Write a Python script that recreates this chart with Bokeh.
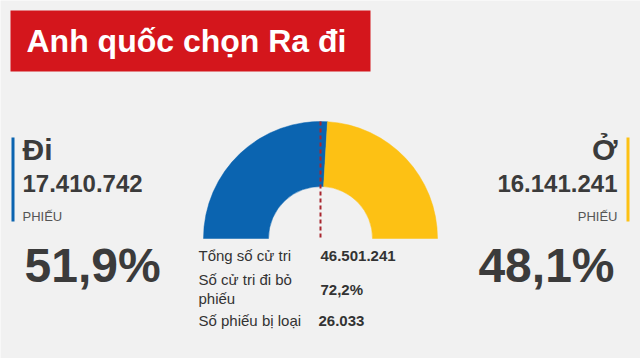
import math
from bokeh.plotting import figure
from bokeh.models import Range1d, ColumnDataSource
from bokeh.core.properties import value
from bokeh.embed import file_html
from bokeh.resources import INLINE

# ---- data ----
title = "Anh quốc chọn Ra đi"
sides = ["Đi", "Ở"]
votes = [17410742, 16141241]
vote_labels = ["17.410.742", "16.141.241"]
shares = [51.9, 48.1]
share_labels = ["51,9%", "48,1%"]
unit_label = "PHIẾU"
side_colors = ["#0b64b0", "#fdc114"]
stat_labels = ["Tổng số cử tri", "Số cử tri đi bỏ\nphiếu", "Số phiếu bị loại"]
stat_values = ["46.501.241", "72,2%", "26.033"]

# ---- layout ----
W, H = 640, 358
FONT = value("Liberation Sans")
DARK = "#3b3b3b"
BG = "#f1f1f1"

p = figure(width=W, height=H, x_range=Range1d(0, W), y_range=Range1d(0, H),
           output_backend="svg", toolbar_location=None,
           x_axis_location=None, y_axis_location=None, min_border=0)
p.background_fill_color = BG
p.border_fill_color = BG
p.outline_line_color = None
p.grid.visible = False

def Y(y):
    return H - y

def mid(baseline, size):
    # vertical centre of capitals for a given baseline and font size
    return Y(baseline - 0.35 * size)

# title box
p.quad(left=10, right=370, top=Y(10), bottom=Y(71), fill_color="#d4161c", line_color=None)
p.text(x=[26], y=[mid(52, 32)], text=[title], text_font=FONT, text_font_size="32px",
       text_font_style="bold", text_color="white", text_baseline="middle")

# donut (half)
cx, cy = 320, Y(238)
split = math.pi * (1 - shares[0] / 100.0)
wedges = ColumnDataSource(dict(start=[split, 0.0], end=[math.pi, split], color=side_colors))
p.annular_wedge(x=cx, y=cy, inner_radius=52, outer_radius=117,
                start_angle="start", end_angle="end", fill_color="color",
                line_color="color", line_width=0.5, source=wedges)
p.segment(x0=[320], y0=[Y(121)], x1=[320], y1=[Y(238)], line_color="#a8262e",
          line_width=2, line_dash="4 3")

# side bars
p.quad(left=[11, 626], right=[14, 629], top=Y(137), bottom=Y(221),
       fill_color=side_colors, line_color=None)

# side texts
xs = [22, 617]
aligns = ["left", "right"]
side_src = ColumnDataSource(dict(x=xs, align=aligns, side=sides, votes=vote_labels,
                                 unit=[unit_label, unit_label]))
p.text(x="x", y=mid(159, 30), text="side", text_align="align", source=side_src,
       text_font=FONT, text_font_size="30px", text_font_style="bold",
       text_color=DARK, text_baseline="middle")
p.text(x="x", y=mid(191.5, 24), text="votes", text_align="align", source=side_src,
       text_font=FONT, text_font_size="24px", text_font_style="bold",
       text_color=DARK, text_baseline="middle")
p.text(x="x", y=mid(220.5, 13), text="unit", text_align="align", source=side_src,
       text_font=FONT, text_font_size="13px", text_color="#555555",
       text_baseline="middle")
pct_src = ColumnDataSource(dict(x=[24, 614], align=aligns, pct=share_labels))
p.text(x="x", y=mid(281.5, 48), text="pct", text_align="align", source=pct_src,
       text_font=FONT, text_font_size="48px", text_font_style="bold",
       text_color=DARK, text_baseline="middle")

# stats table
rows_y = [Y(255), Y(288.5), Y(320)]
stat_src = ColumnDataSource(dict(y=rows_y, label=stat_labels, val=stat_values,
                                 vx=[320, 320, 318]))
p.text(x=198, y="y", text="label", source=stat_src, text_font=FONT,
       text_font_size="15px", text_color="#333333", text_baseline="middle",
       text_line_height=1.1)
p.text(x="vx", y="y", text="val", source=stat_src, text_font=FONT,
       text_font_size="15px", text_font_style="bold", text_color="#333333",
       text_baseline="middle")

open("out.html", "w").write(file_html(p, INLINE))
